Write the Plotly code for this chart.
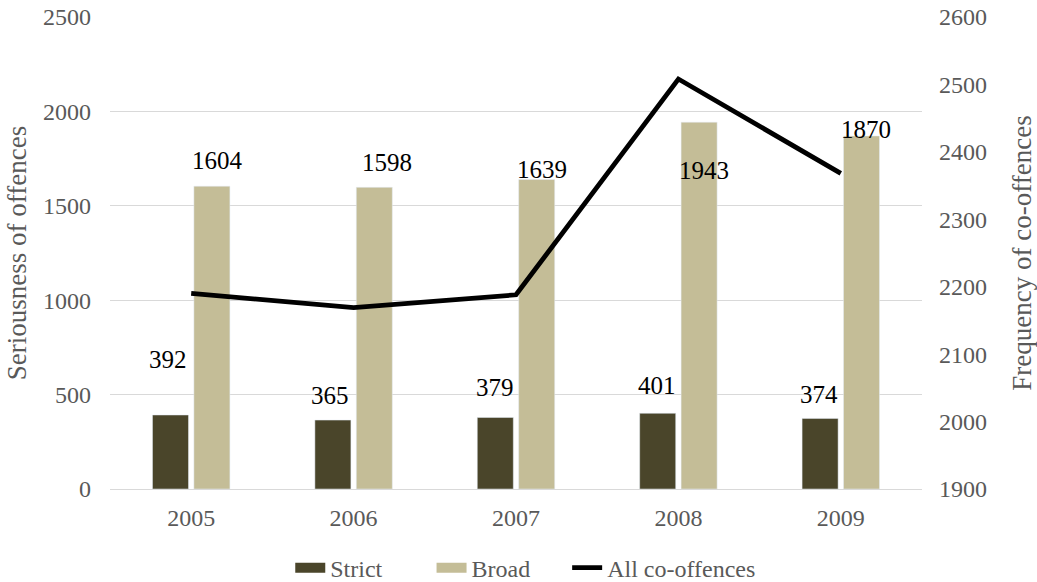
import plotly.graph_objects as go

years = ["2005", "2006", "2007", "2008", "2009"]
strict = [392, 365, 379, 401, 374]
broad = [1604, 1598, 1639, 1943, 1870]
all_co = [2190, 2169, 2188, 2508, 2368]

# label offsets (style only): pixels relative to bar top
strict_label_shift = [55, 25, 30, 28, 24]
broad_label_shift = [26, 25, 10, -48, 6]
strict_label_xshift = [-23, -24, -21, -21, -22]
broad_label_xshift = [26, 33, 26, 26, 25]

font_family = "Times New Roman, Liberation Serif, DejaVu Serif, serif"
gray = "#595959"
c_strict = "#4A452A"
c_broad = "#C4BD97"

fig = go.Figure()
fig.add_trace(go.Bar(x=years, y=strict, name="Strict", marker_color=c_strict, showlegend=False))
fig.add_trace(go.Bar(x=years, y=broad, name="Broad", marker_color=c_broad, showlegend=False))
fig.add_trace(go.Scatter(x=years, y=all_co, name="All co-offences", mode="lines",
                         line=dict(color="black", width=4.8), yaxis="y2", showlegend=False))

# legend entries (wide rectangular swatches as in the reference)
fig.add_trace(go.Scatter(x=[None], y=[None], mode="lines", name="Strict",
                         line=dict(color=c_strict, width=14), legend="legend"))
fig.add_trace(go.Scatter(x=[None], y=[None], mode="lines", name="Broad",
                         line=dict(color=c_broad, width=14), legend="legend2"))
fig.add_trace(go.Scatter(x=[None], y=[None], mode="lines", name="All co-offences",
                         line=dict(color="black", width=4.8), legend="legend3"))

for i, yr in enumerate(years):
    fig.add_annotation(x=i, y=strict[i], xref="x", yref="y", text=str(strict[i]),
                       showarrow=False, xshift=strict_label_xshift[i],
                       yshift=strict_label_shift[i], yanchor="middle",
                       font=dict(family=font_family, size=25, color="black"))
    fig.add_annotation(x=i, y=broad[i], xref="x", yref="y", text=str(broad[i]),
                       showarrow=False, xshift=broad_label_xshift[i],
                       yshift=broad_label_shift[i], yanchor="middle",
                       font=dict(family=font_family, size=25, color="black"))

leg_common = dict(orientation="h", yref="container", y=0.024, yanchor="middle",
                  xanchor="left", font=dict(family=font_family, size=24, color=gray),
                  bgcolor="rgba(0,0,0,0)")

fig.update_layout(
    width=1037, height=582,
    margin=dict(l=110, r=115, t=17, b=93, autoexpand=False),
    paper_bgcolor="white", plot_bgcolor="white",
    font=dict(family=font_family, size=24, color=gray),
    barmode="group", bargap=0.49, bargroupgap=0.13,
    xaxis=dict(type="category", range=[-0.5, 4.5], autorange=False, showgrid=False,
               ticks="", showline=False, automargin=False, ticklabelstandoff=12,
               tickfont=dict(size=24, color=gray)),
    yaxis=dict(range=[0, 2500], dtick=500, showgrid=True, gridcolor="#D9D9D9", gridwidth=1.3,
               zeroline=True, zerolinecolor="#D9D9D9", zerolinewidth=1.3, automargin=False,
               ticklabeloverflow="allow",
               title=dict(text="Seriousness of offences", font=dict(size=27, color=gray), standoff=8),
               tickfont=dict(size=24, color=gray), ticklabelstandoff=18),
    yaxis2=dict(range=[1900, 2600], dtick=100, overlaying="y", side="right", showgrid=False,
                zeroline=False, automargin=False, ticklabeloverflow="allow",
                title=dict(text="Frequency of co-offences", font=dict(size=27, color=gray), standoff=26),
                tickfont=dict(size=24, color=gray), ticklabelstandoff=16),
    legend=dict(x=0.222, xref="paper", **leg_common),
    legend2=dict(x=0.396, xref="paper", **leg_common),
    legend3=dict(x=0.563, xref="paper", **leg_common),
    showlegend=True,
)

fig.write_html("out.html", config={"displayModeBar": False},
               post_script="document.body.style.margin='0';")
